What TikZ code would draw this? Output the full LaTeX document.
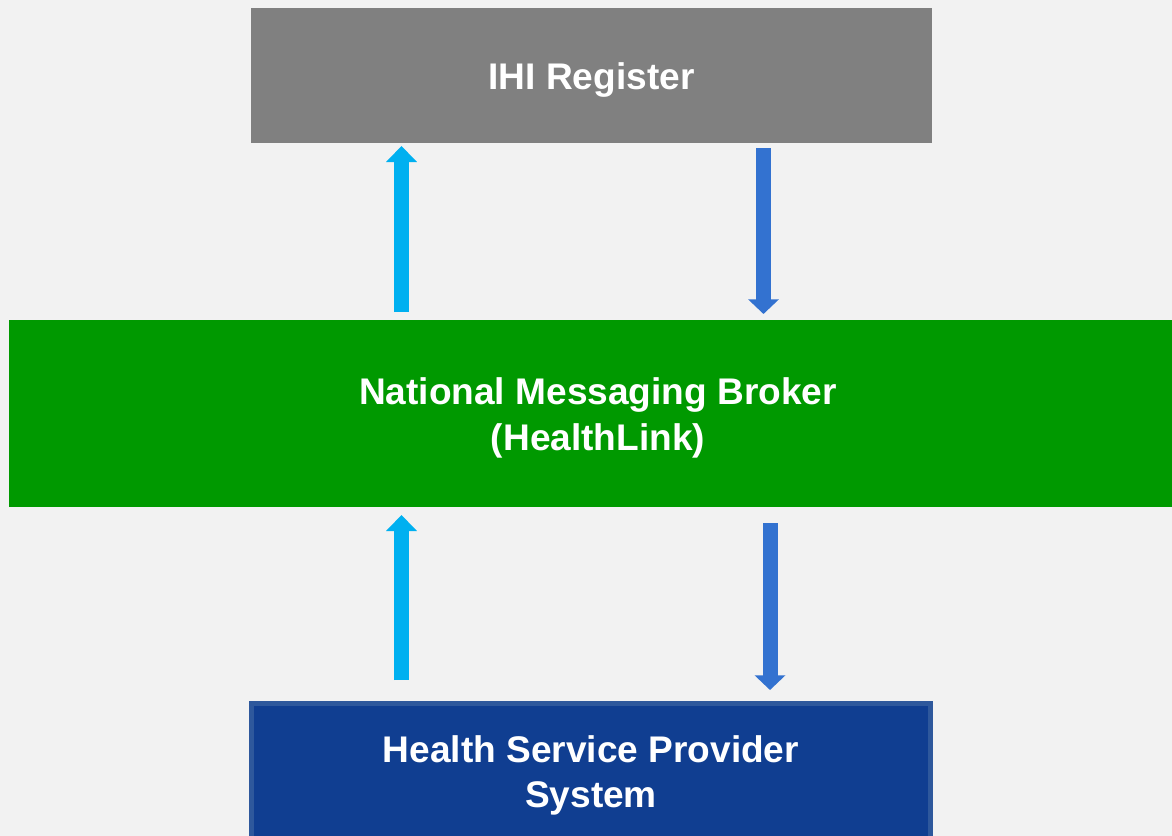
\documentclass[tikz,border=0pt]{standalone}
\usepackage{fontspec}
\setmainfont{Liberation Sans}
\usetikzlibrary{calc,arrows.meta}
\definecolor{bggray}{RGB}{242 242 242}
\definecolor{regray}{RGB}{128 128 128}
\definecolor{brokergreen}{RGB}{0 153 0}
\definecolor{hspblue}{RGB}{16 62 145}
\definecolor{hspedge}{RGB}{46 88 156}
\definecolor{upcyan}{RGB}{0 176 240}
\definecolor{downblue}{RGB}{51 114 208}
\tikzstyle{box} = [rectangle, inner sep=0pt, outer sep=0pt, text=white, align=center, font=\fontsize{27.8}{34}\selectfont\bfseries]
\tikzstyle{uparrow} = [upcyan, line width=11.25pt, -{Triangle[width=22.5pt,length=12pt]}]
\tikzstyle{downarrow} = [downblue, line width=11.25pt, -{Triangle[width=22.5pt,length=11pt]}]
\newcommand{\lowline}[1]{\raisebox{-3.2pt}[\height][\depth]{#1}}

\begin{document}
\begin{tikzpicture}[x=0.75pt, y=-0.75pt]
    \useasboundingbox (0,0) rectangle (1172,836);
    \clip (0,0) rectangle (1172,836);
    \fill[bggray] (0,0) rectangle (1172,836);
    \node (ihi) [box, fill=regray, minimum width=510.75pt, minimum height=101.25pt] at (591.5,75.5) {\lowline{IHI Register}};
    \node (nmb) [box, fill=brokergreen, minimum width=883.5pt, minimum height=140.25pt] at (598,413.5) {\lowline{National Messaging Broker}\\\lowline{(HealthLink)}};
    \node (hsp) [box, fill=hspblue, draw=hspedge, line width=3.75pt, minimum width=509.25pt, minimum height=108pt] at (591,775.5) {Health Service Provider\\System};
    \draw [uparrow] ($(nmb.north)+(-196.5,-8)$) -- ($(ihi.south)+(-190,3)$);
    \draw [downarrow] ($(ihi.south)+(172,5)$) -- ($(nmb.north)+(165.5,-6)$);
    \draw [uparrow] ($(hsp.north)+(-189.5,-23.5)$) -- ($(nmb.south)+(-196.5,8)$);
    \draw [downarrow] ($(nmb.south)+(172,16)$) -- ($(hsp.north)+(179,-13.5)$);
\end{tikzpicture}
\end{document}
